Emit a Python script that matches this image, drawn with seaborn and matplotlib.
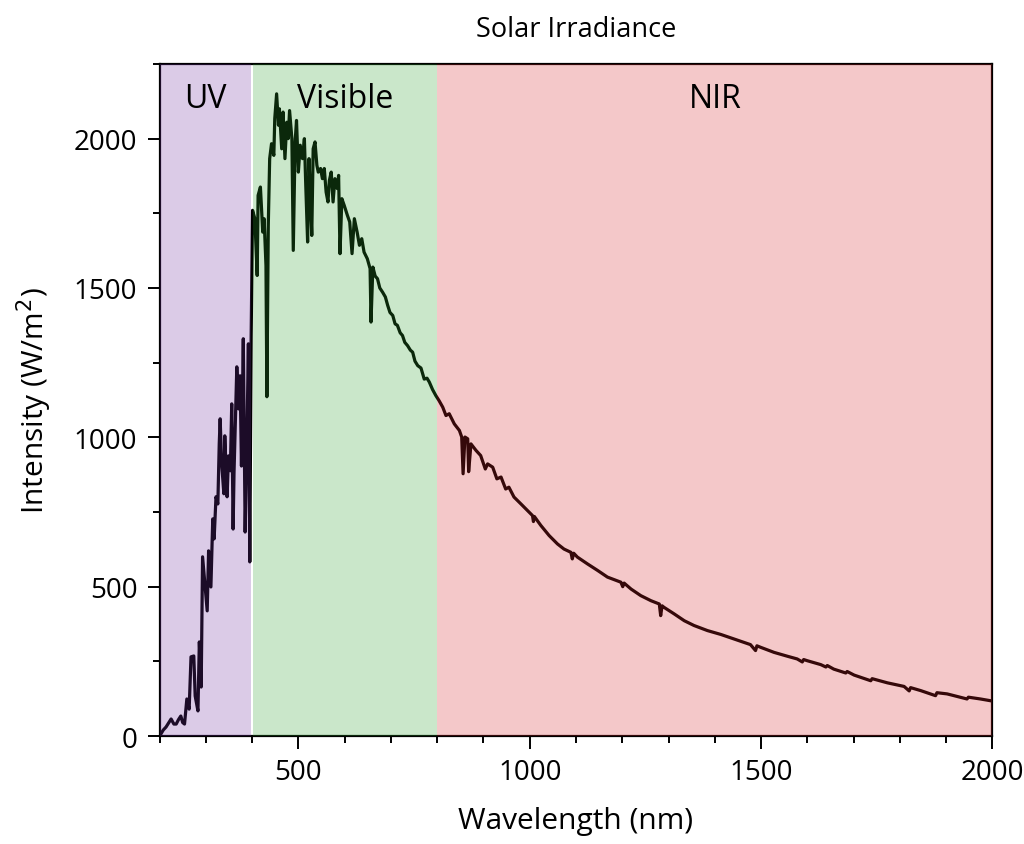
import numpy as np
import pandas as pd
import matplotlib
matplotlib.use("Agg")
import matplotlib.pyplot as plt
from matplotlib.ticker import MultipleLocator
import seaborn as sns

# Spectrum (nm, W/m^2)
wavelength = [
    200, 203, 208, 214, 220, 225, 231, 236, 241, 246, 250, 254, 259, 264, 268,
    274, 277, 283, 286, 290, 293, 297, 303, 306, 311, 315, 318, 322, 326, 329,
    331, 334, 339, 341, 346, 349, 353, 356, 359, 361, 367, 371, 374, 377, 381,
    385, 389, 392, 395, 398, 401,
    406, 411, 413, 418, 423, 426, 430, 432, 435, 438, 442, 447, 449, 453, 457,
    459, 464, 467, 471, 475, 478, 481, 486, 489, 493, 496, 500, 504, 509, 513,
    516, 520, 523, 526, 529, 532, 536, 540, 543, 548, 552, 556, 560, 564, 567,
    571, 575, 579, 584, 587, 590, 594, 599, 606, 611, 616, 621, 627, 632, 637,
    642, 649, 655, 657, 661, 666, 671, 676, 682, 688, 693, 698, 704, 709, 714,
    720, 725, 730, 736, 742, 747, 752, 758, 765, 772, 778, 783, 790, 797, 804,
    812, 819, 826, 837, 848, 853, 856, 860, 866, 868, 873, 884,
    894, 904, 909, 920, 929, 938, 948, 955, 966, 981, 995, 1006, 1008, 1010,
    1024, 1042, 1060, 1074, 1089, 1092, 1095, 1103, 1125, 1147, 1168, 1197,
    1201, 1204, 1219, 1240, 1262, 1280, 1283, 1286, 1290, 1312, 1334, 1355,
    1384, 1413, 1441, 1477, 1488, 1491, 1499, 1528, 1557, 1578, 1589, 1592,
    1600, 1629, 1640, 1643, 1657, 1683, 1686, 1701, 1737, 1740, 1773, 1809,
    1820, 1823, 1845, 1877, 1880, 1902, 1945, 1948, 1974, 2000,
]
intensity = [
    0, 7, 20, 30, 45, 57, 40, 40, 55, 67, 45, 40, 124, 90, 265,
    268, 134, 84, 315, 164, 600, 526, 419, 620, 499, 727, 660, 801, 777, 978,
    1062, 918, 811, 1005, 801, 938, 888, 1112, 693, 884, 1236, 1095, 1206, 904, 1330,
    683, 1005, 1313, 583, 1340, 1760,
    1732, 1542, 1810, 1838, 1687, 1732, 1575, 1136, 1709, 1933, 1983, 1944, 2067, 2150, 2045,
    2100, 1966, 2089, 1933, 2055, 2000, 2094, 2000, 1626, 1989, 2061, 1888, 1978, 1933, 2000,
    1844, 1654, 1933, 1799, 1676, 1966, 1989, 1911, 1888, 1900, 1866, 1900, 1821, 1788, 1860,
    1888, 1788, 1866, 1833, 1877, 1615, 1799, 1777, 1743, 1721, 1615, 1732, 1687, 1643, 1665,
    1620, 1598, 1565, 1386, 1570, 1540, 1531, 1500, 1486, 1470, 1442, 1418, 1408, 1380, 1375,
    1350, 1341, 1318, 1307, 1292, 1285, 1255, 1240, 1232, 1195, 1198, 1185, 1160, 1140, 1123,
    1101, 1073, 1079, 1045, 1023, 1001, 878, 1001, 995, 885, 978, 956,
    939, 894, 911, 900, 861, 867, 827, 833, 800, 777, 755, 738, 718, 735,
    705, 671, 643, 626, 615, 593, 612, 599, 576, 554, 532, 515,
    500, 512, 492, 470, 453, 442, 403, 436, 431, 409, 386, 370,
    353, 340, 325, 306, 286, 302, 297, 280, 267, 258, 248, 256,
    252, 239, 231, 236, 224, 211, 216, 204, 185, 192, 178, 166,
    151, 162, 152, 135, 145, 141, 124, 130, 124, 117,
]

# Spectral regions
region_names = ["UV", "Visible", "NIR"]
region_start = [200, 401, 800]
region_end = [398.5, 800, 2000]
region_colors = ["#7030a0", "#2ca02c", "#d62728"]

df = pd.DataFrame({"Wavelength": wavelength, "Intensity": intensity})

sns.set_theme(style="ticks")
plt.rcParams["font.family"] = ["Open Sans", "DejaVu Sans"]
plt.rcParams["text.color"] = "black"
plt.rcParams["axes.labelcolor"] = "black"

fig = plt.figure(figsize=(10.24, 8.45), dpi=100)
ax = fig.add_axes([0.1558, 0.1278, 0.8134, 0.7953])

sns.lineplot(data=df, x="Wavelength", y="Intensity", ax=ax, color="black",
             linewidth=2.3, estimator=None, sort=False, zorder=2)

# colored regions on top of the spectrum
for name, x0, x1, col in zip(region_names, region_start, region_end, region_colors):
    ax.axvspan(x0, x1, color=col, alpha=0.25, lw=0, zorder=3)
    ax.text((x0 + x1) / 2, 2135, name, ha="center", va="center", fontsize=23,
            color="black", zorder=4)

ax.set_xlim(200, 2000)
ax.set_ylim(0, 2250)
ax.xaxis.set_major_locator(MultipleLocator(500))
ax.xaxis.set_minor_locator(MultipleLocator(100))
ax.yaxis.set_major_locator(MultipleLocator(500))
ax.yaxis.set_minor_locator(MultipleLocator(250))
ax.tick_params(which="major", direction="out", length=9, width=1.4, labelsize=20,
               colors="black", pad=7)
ax.tick_params(which="minor", direction="out", length=5, width=1.4, colors="black")

for sp in ax.spines.values():
    sp.set_linewidth(1.6)
    sp.set_color("black")

ax.set_xlabel("Wavelength (nm)", fontsize=21.5, labelpad=14)
ax.set_ylabel("Intensity (W/m$^2$)", fontsize=21.5, labelpad=14)
ax.set_title("Solar Irradiance", fontsize=19.5, pad=20, color="black")

fig.savefig("out.png", dpi=100)
plt.close(fig)
